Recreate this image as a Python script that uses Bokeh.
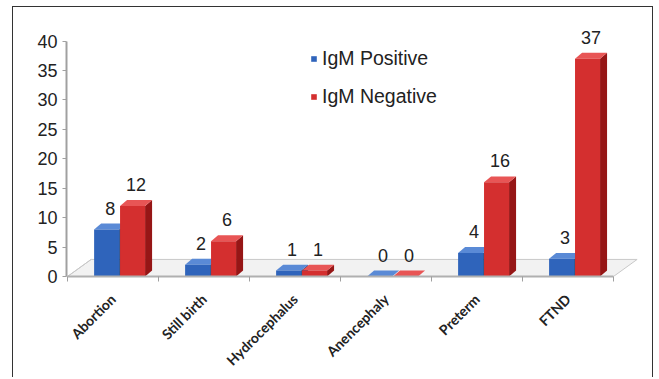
from bokeh.plotting import figure
from bokeh.models import (ColumnDataSource, FixedTicker, Legend, LegendItem, Range1d)
from bokeh.core.properties import value
from bokeh.embed import file_html
from bokeh.resources import INLINE
import math

# ---- data ----
categories = ["Abortion", "Still birth", "Hydrocephalus", "Anencephaly", "Preterm", "FTND"]
igm_positive = [8, 2, 1, 0, 4, 3]
igm_negative = [12, 6, 1, 0, 16, 37]
y_ticks = [0, 5, 10, 15, 20, 25, 30, 35, 40]
series_names = ["IgM Positive", "IgM Negative"]

# ---- style constants ----
BAR_W = 0.275
OFF_POS = -0.07
OFF_NEG = 0.215
DX = 0.077   # 3D depth in x units
DY = 1.0     # 3D depth in y units
FLOOR_DX = 0.26
FLOOR_DY = 2.9

BLUE = dict(front="#2f64bb", top="#5a8ad6", side="#1d437f")
RED = dict(front="#d42f2f", top="#e85555", side="#961616")

p = figure(width=641, height=371, output_backend="svg", toolbar_location=None,
           x_range=Range1d(-0.011, 6.297), y_range=Range1d(0, 43.67),
           min_border_left=53, min_border_right=14, min_border_top=12, min_border_bottom=102)
p.styles = {"margin-left": "12px", "margin-top": "6px",
            "border-left": "1.5px solid #333",
            "border-right": "1.5px solid #333", "border-top": "1.5px solid #333"}
p.outline_line_color = None
p.xgrid.grid_line_color = None
p.ygrid.grid_line_color = None
p.background_fill_color = "white"

# floor
n = len(categories)
p.patch([0, n, n + FLOOR_DX, FLOOR_DX], [0, 0, FLOOR_DY, FLOOR_DY],
        fill_color="#f2f2f2", line_color="#c8c8c8", line_width=1)
p.line([0, FLOOR_DX], [0, FLOOR_DY], line_color="#c8c8c8", line_width=1)


def bars(vals, off, col):
    xs = [i + 0.5 + off for i in range(len(vals))]
    x0 = [x - BAR_W / 2 for x in xs]
    x1 = [x + BAR_W / 2 for x in xs]
    side_x = [[b, b + DX, b + DX, b] for b in x1]
    side_y = [[0, DY, v + DY, v] for v in vals]
    top_x = [[a, b, b + DX, a + DX] for a, b in zip(x0, x1)]
    top_y = [[v, v, v + DY, v + DY] for v in vals]
    p.patches(side_x, side_y, fill_color=col["side"], line_color=None)
    p.patches(top_x, top_y, fill_color=col["top"], line_color=None)
    src = ColumnDataSource(dict(x=xs, top=vals, lab=[str(v) for v in vals],
                                lx=[x + DX / 2 for x in xs], ly=[v + DY for v in vals]))
    r = p.vbar(x="x", top="top", bottom=0, width=BAR_W, source=src,
               fill_color=col["front"], line_color=None)
    p.text(x="lx", y="ly", text="lab", source=src, text_align="center",
           text_baseline="bottom", y_offset=-9, text_font=value("Liberation Sans"),
           text_font_size="18px", text_color="#222222")
    return r


r_pos = bars(igm_positive, OFF_POS, BLUE)
r_neg = bars(igm_negative, OFF_NEG, RED)

# axes
xa = p.xaxis[0]
xa.ticker = FixedTicker(ticks=[i + 0.5 for i in range(n)], minor_ticks=list(range(n + 1)))
xa.major_label_overrides = {i + 0.5: c for i, c in enumerate(categories)}
xa.major_label_orientation = math.pi / 4
xa.major_label_text_font = "Lato"
xa.major_label_text_font_style = "bold"
xa.major_label_text_font_size = "14px"
xa.major_label_text_color = "#222222"
xa.major_label_standoff = 14
xa.major_tick_line_color = None
xa.minor_tick_line_color = "#a0a0a0"
xa.minor_tick_out = 5
xa.minor_tick_in = 0
xa.axis_line_color = "#b0b0b0"
xa.axis_line_width = 2
xa.bounds = (0, n)

ya = p.yaxis[0]
ya.ticker = FixedTicker(ticks=y_ticks)
ya.major_label_text_font = "Liberation Sans"
ya.major_label_text_font_size = "18px"
ya.major_label_text_color = "#222222"
ya.major_tick_out = 4
ya.major_tick_in = 0
ya.major_tick_line_color = "#a0a0a0"
ya.minor_tick_line_color = None
ya.axis_line_color = "#a0a0a0"
ya.axis_line_width = 2
ya.major_label_standoff = 5
ya.bounds = (0, 40)

legend = Legend(items=[LegendItem(label=series_names[0], renderers=[r_pos]),
                       LegendItem(label=series_names[1], renderers=[r_neg])],
                location=(244, 168), orientation="vertical")
legend.border_line_color = None
legend.background_fill_alpha = 0
legend.padding = 0
legend.margin = 0
legend.spacing = 15
legend.glyph_width = 7
legend.glyph_height = 7
legend.label_height = 20
legend.label_standoff = 5
legend.label_text_font = "Liberation Sans"
legend.label_text_font_size = "19.5px"
legend.label_text_color = "#222222"
p.add_layout(legend, "center")

open("out.html", "w").write(file_html(p, INLINE))
